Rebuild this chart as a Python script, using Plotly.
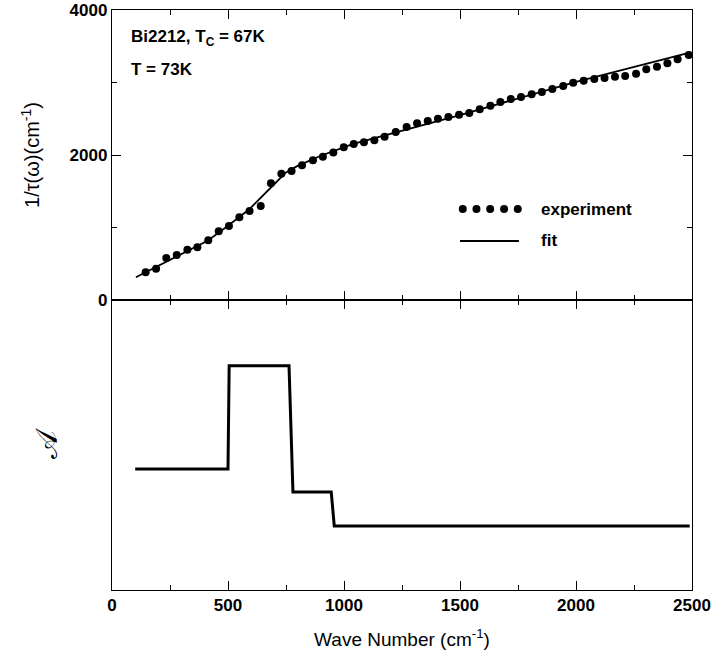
import plotly.graph_objects as go
from plotly.subplots import make_subplots

# experiment data: 1/tau(omega) vs wave number
exp_x = [145, 190, 234, 279, 325, 368, 415, 460, 504, 549, 593, 641, 685, 730, 774,
         819, 866, 909, 954, 999, 1042, 1086, 1131, 1175, 1223, 1270, 1315, 1361, 1405,
         1450, 1496, 1540, 1585, 1631, 1674, 1719, 1763, 1809, 1853, 1898, 1945, 1988,
         2033, 2079, 2123, 2168, 2212, 2259, 2303, 2349, 2394, 2438, 2486]
exp_y = [382, 432, 579, 621, 694, 726, 823, 947, 1021, 1140, 1228, 1297, 1609, 1743, 1779,
         1857, 1926, 1977, 2036, 2106, 2152, 2175, 2202, 2253, 2317, 2386, 2437, 2469, 2501,
         2524, 2556, 2579, 2630, 2680, 2731, 2772, 2800, 2837, 2869, 2910, 2952, 2998,
         3025, 3048, 3062, 3081, 3090, 3122, 3182, 3218, 3264, 3319, 3379]

# fit curve
fit_x = [103, 412, 480, 588, 700, 750, 800, 900, 1040, 1500, 2000, 2490]
fit_y = [313, 818, 975, 1241, 1600, 1760, 1850, 1990, 2152, 2550, 3010, 3411]

# step function A(omega)
a_x = [100, 500, 505, 763, 780, 945, 958, 2490]
a_y = [0.417, 0.417, 0.773, 0.773, 0.338, 0.338, 0.221, 0.221]

FONT = "Liberation Sans, Arial, sans-serif"

fig = make_subplots(rows=2, cols=1, shared_xaxes=False, vertical_spacing=0)

fig.add_trace(go.Scatter(x=fit_x, y=fit_y, mode="lines",
                         line=dict(color="black", width=1.8), showlegend=False), row=1, col=1)
fig.add_trace(go.Scatter(x=exp_x, y=exp_y, mode="markers",
                         marker=dict(color="black", size=8), showlegend=False), row=1, col=1)
fig.add_trace(go.Scatter(x=a_x, y=a_y, mode="lines",
                         line=dict(color="black", width=3), showlegend=False), row=2, col=1)

xcommon = dict(range=[0, 2500], showline=True, linecolor="black", linewidth=1,
               mirror="ticks", ticks="inside", ticklen=9, tickwidth=1.2, tickcolor="black",
               dtick=500, tick0=0, showgrid=False, zeroline=False,
               minor=dict(dtick=250, ticklen=5, ticks="inside", tickcolor="black", tickwidth=1.2))
fig.update_xaxes(**xcommon, showticklabels=False, row=1, col=1)
fig.update_xaxes(**xcommon, showticklabels=True, automargin=False,
                 tickfont=dict(family=FONT, size=17, color="black", weight="bold"),
                 title=dict(text="Wave Number (cm<sup>-1</sup>)",
                            font=dict(family=FONT, size=19, color="black"), standoff=18),
                 row=2, col=1)

fig.update_yaxes(range=[0, 4000], showline=True, linecolor="black", linewidth=1.3,
                 mirror="ticks", ticks="inside", ticklen=9, tickwidth=1.2, tickcolor="black",
                 tickvals=[0, 2000, 4000], ticktext=["0", "2000", "4000"],
                 tickfont=dict(family=FONT, size=17, color="black", weight="bold"),
                 minor=dict(tickvals=[1000, 3000], ticklen=5, ticks="inside",
                            tickcolor="black", tickwidth=1.2),
                 showgrid=False, zeroline=False, automargin=False,
                 title=dict(text="1/τ(ω)(cm<sup>-1</sup>)",
                            font=dict(family=FONT, size=20, color="black"), standoff=24),
                 row=1, col=1)
fig.update_yaxes(range=[0, 1], showline=True, linecolor="black", linewidth=1.3,
                 mirror=True, ticks="", showticklabels=False, showgrid=False, zeroline=False,
                 automargin=False,
                 title=dict(text="𝒜", font=dict(family="DejaVu Serif, serif", size=30, color="black"),
                            standoff=44),
                 row=2, col=1)

# annotations
fig.add_annotation(xref="paper", yref="paper", x=0.03, y=0.951, xanchor="left", yanchor="middle",
                   text="<b>Bi2212, T<sub>C</sub> = 67K</b>", showarrow=False,
                   font=dict(family=FONT, size=17, color="black"))
fig.add_annotation(xref="paper", yref="paper", x=0.03, y=0.897, xanchor="left", yanchor="middle",
                   text="<b>T = 73K</b>", showarrow=False,
                   font=dict(family=FONT, size=17, color="black"))

# legend drawn manually
leg_dot_x = [1512, 1571, 1630, 1690, 1749]
for lx in leg_dot_x:
    fig.add_shape(type="circle", xref="x", yref="y", xsizemode="pixel", ysizemode="pixel",
                  xanchor=lx, yanchor=1255, x0=-4, x1=4, y0=-4, y1=4,
                  fillcolor="black", line=dict(color="black", width=0))
fig.add_shape(type="line", xref="x", yref="y", x0=1500, x1=1754, y0=814, y1=814,
              line=dict(color="black", width=1.8))
fig.add_annotation(xref="x", yref="y", x=1840, y=1255, xanchor="left", yanchor="middle",
                   text="<b>experiment</b>", showarrow=False,
                   font=dict(family=FONT, size=17, color="black"))
fig.add_annotation(xref="x", yref="y", x=1840, y=814, xanchor="left", yanchor="middle",
                   text="<b>fit</b>", showarrow=False,
                   font=dict(family=FONT, size=17, color="black"))

fig.update_layout(width=712, height=658, margin=dict(l=112, r=20, t=10, b=68),
                  plot_bgcolor="white", paper_bgcolor="white", showlegend=False)

fig.write_html("out.html", config={"displayModeBar": False},
               post_script="document.body.style.margin='0';document.body.style.overflow='hidden';")
